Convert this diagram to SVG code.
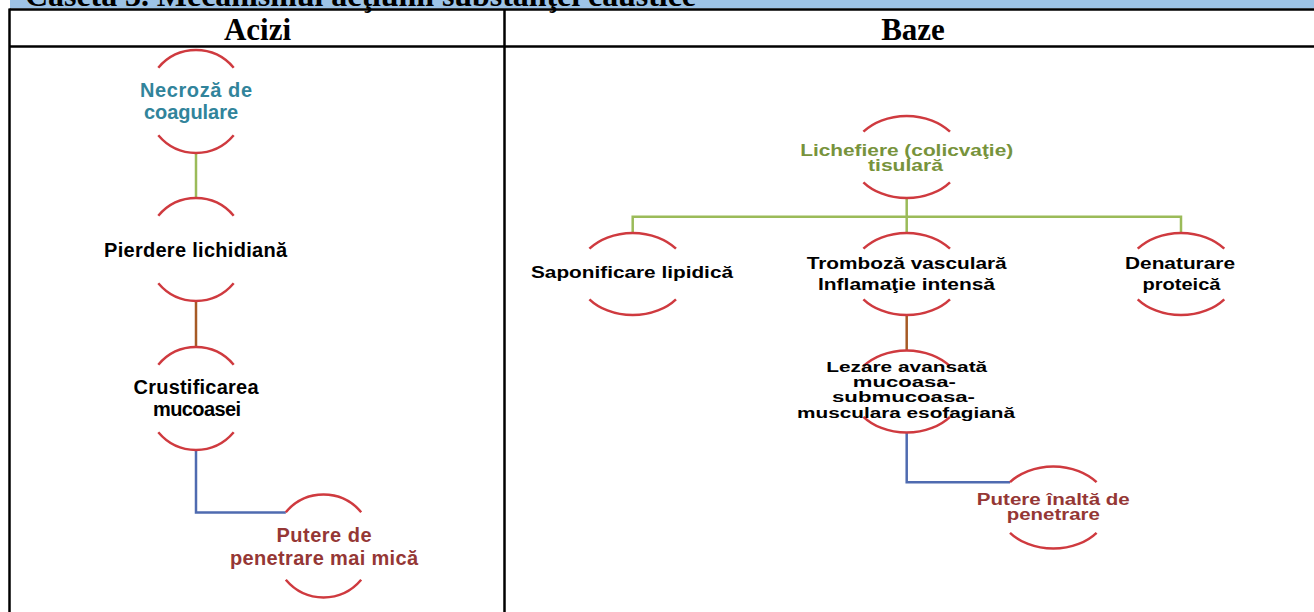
<svg xmlns="http://www.w3.org/2000/svg" width="1314" height="612" viewBox="0 0 1314 612">
<style>
.frame{stroke:#000;stroke-width:2.5;fill:none}
.hdr{font-family:"Liberation Serif","Times New Roman",serif;font-weight:bold;fill:#000}
.arc{fill:none;stroke:#CF3A3F;stroke-width:2.5}
.t{font-family:"Liberation Sans",Arial,sans-serif;font-weight:bold;text-anchor:middle}
.l{font-size:20px}
.r{font-size:16px}
.s{font-size:14.5px}
.blk{fill:#000}
.teal{fill:#31849B}
.olive{fill:#77933C}
.dred{fill:#953735}
.cg{stroke:#9BBB59;stroke-width:2.5;fill:none}
.cb{stroke:#A65A25;stroke-width:2.5;fill:none}
.cu{stroke:#4F6BB0;stroke-width:2.5;fill:none}
</style>
<rect x="0" y="0" width="1314" height="612" fill="#fff"/>
<g id="table">
<rect x="10" y="0" width="1304" height="8.5" fill="#9DC3E6"/>
<text class="hdr" x="25" y="6" font-size="32" textLength="671">Caseta 3. Mecanismul acţiunii substanţei caustice</text>
<line class="frame" x1="9.5" y1="9.5" x2="1314" y2="9.5"/>
<line class="frame" x1="9.5" y1="8.5" x2="9.5" y2="612"/>
<line class="frame" x1="10" y1="46.5" x2="1314" y2="46.5"/>
<line class="frame" x1="504.5" y1="9.5" x2="504.5" y2="612"/>
<text class="hdr" x="257.5" y="40" font-size="31" text-anchor="middle">Acizi</text>
<text class="hdr" x="913" y="40" font-size="31" text-anchor="middle">Baze</text>
</g>
<g id="connectors">
<path class="cg" d="M196,153 V197.5"/>
<path class="cb" d="M196,301.5 V347"/>
<path class="cu" d="M196,450 V512.5 H285.8"/>
<path class="cg" d="M906.7,198 V233 M632.7,233 V216.7 H1181 V233"/>
<path class="cb" d="M906.7,315 V350.5"/>
<path class="cu" d="M906.7,432.5 V482.2 H1010"/>
</g>
<g id="n-necroza">
<path class="arc" d="M158.3,67.7 A50,51.5 0 0 1 233.7,67.7 M158.3,135.3 A50,51.5 0 0 0 233.7,135.3"/>
<text class="t l teal" x="196" y="97" textLength="112">Necroză de</text>
<text class="t l teal" x="191" y="118.5" textLength="94">coagulare</text>
</g>
<g id="n-pierdere">
<path class="arc" d="M158.3,215.7 A50,51.5 0 0 1 233.7,215.7 M158.3,283.3 A50,51.5 0 0 0 233.7,283.3"/>
<text class="t l blk" x="195.5" y="257" textLength="183">Pierdere lichidiană</text>
</g>
<g id="n-crustificarea">
<path class="arc" d="M158.3,364.7 A50,51.5 0 0 1 233.7,364.7 M158.3,432.3 A50,51.5 0 0 0 233.7,432.3"/>
<text class="t l blk" x="196" y="393.5" textLength="125">Crustificarea</text>
<text class="t l blk" x="197" y="416" textLength="88">mucoasei</text>
</g>
<g id="n-putere-mica">
<path class="arc" d="M285.8,512.2 A50,51.5 0 0 1 361.2,512.2 M285.8,579.8 A50,51.5 0 0 0 361.2,579.8"/>
<text class="t l dred" x="324" y="542" textLength="95">Putere de</text>
<text class="t l dred" x="324" y="565" textLength="188">penetrare mai mică</text>
</g>
<g id="n-lichefiere">
<path class="arc" d="M863.4,131.7 A55,41 0 0 1 950,131.7 M863.4,182.3 A55,41 0 0 0 950,182.3"/>
<text class="t r olive" x="906.7" y="155.7" textLength="213" lengthAdjust="spacingAndGlyphs">Lichefiere (colicvaţie)</text>
<text class="t r olive" x="905.5" y="170.5" textLength="75" lengthAdjust="spacingAndGlyphs">tisulară</text>
</g>
<g id="n-saponificare">
<path class="arc" d="M589.4,248.7 A55,41 0 0 1 676,248.7 M589.4,299.3 A55,41 0 0 0 676,299.3"/>
<text class="t r blk" x="632" y="278.3" textLength="202" lengthAdjust="spacingAndGlyphs">Saponificare lipidică</text>
</g>
<g id="n-tromboza">
<path class="arc" d="M863.4,248.7 A55,41 0 0 1 950,248.7 M863.4,299.3 A55,41 0 0 0 950,299.3"/>
<text class="t r blk" x="906.7" y="269.3" textLength="200" lengthAdjust="spacingAndGlyphs">Tromboză vasculară</text>
<text class="t r blk" x="906.5" y="290" textLength="177" lengthAdjust="spacingAndGlyphs">Inflamaţie intensă</text>
</g>
<g id="n-denaturare">
<path class="arc" d="M1137.7,248.7 A55,41 0 0 1 1224.3,248.7 M1137.7,299.3 A55,41 0 0 0 1224.3,299.3"/>
<text class="t r blk" x="1180" y="269.3" textLength="110" lengthAdjust="spacingAndGlyphs">Denaturare</text>
<text class="t r blk" x="1181.5" y="290" textLength="78" lengthAdjust="spacingAndGlyphs">proteică</text>
</g>
<g id="n-lezare">
<path class="arc" d="M863.4,366.2 A55,41 0 0 1 950,366.2 M863.4,416.8 A55,41 0 0 0 950,416.8"/>
<text class="t s blk" x="906.7" y="371.7" textLength="161" lengthAdjust="spacingAndGlyphs">Lezare avansată</text>
<text class="t s blk" x="904.3" y="387" textLength="103" lengthAdjust="spacingAndGlyphs">mucoasa-</text>
<text class="t s blk" x="903.5" y="402.3" textLength="143" lengthAdjust="spacingAndGlyphs">submucoasa-</text>
<text class="t s blk" x="906" y="417.5" textLength="218" lengthAdjust="spacingAndGlyphs">musculara esofagiană</text>
</g>
<g id="n-putere-inalta">
<path class="arc" d="M1010,482.2 A55,41 0 0 1 1096.6,482.2 M1010,532.8 A55,41 0 0 0 1096.6,532.8"/>
<text class="t r dred" x="1053.3" y="505" textLength="153" lengthAdjust="spacingAndGlyphs">Putere înaltă de</text>
<text class="t r dred" x="1053.3" y="520" textLength="93" lengthAdjust="spacingAndGlyphs">penetrare</text>
</g>
</svg>
